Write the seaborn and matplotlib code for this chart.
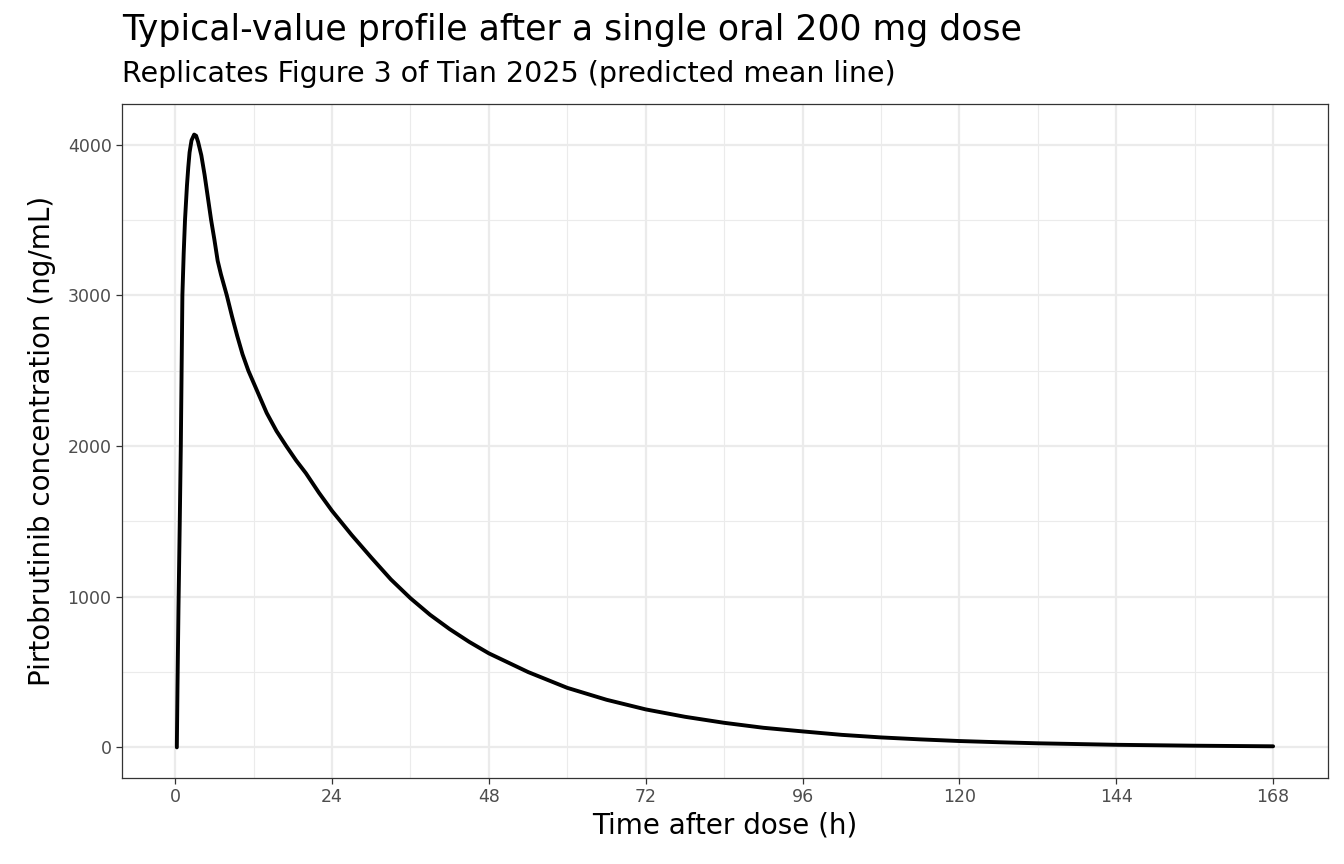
import matplotlib
matplotlib.use("Agg")
import matplotlib.pyplot as plt
import seaborn as sns
import pandas as pd

time_h = [0.25, 0.35, 0.5, 0.7, 0.86, 1.1, 1.3, 1.5, 1.8, 2, 2.2, 2.5, 2.9, 3.2, 3.5, 4, 4.5, 5, 5.5, 6,
          6.5, 7, 7.9, 8.7, 9.5, 10.3, 11.2, 12.5, 14, 15.5, 17, 18.5, 20, 22, 24, 27, 30, 33, 36, 39,
          42, 45, 48, 54, 60, 66, 72, 78, 84, 90, 96, 102, 108, 114, 120, 126, 132, 138, 144, 150,
          156, 162, 168]
conc = [0, 400, 918, 1500, 2000, 3000, 3280, 3500, 3730, 3850, 3950, 4030, 4068, 4060, 4020, 3930,
        3800, 3650, 3500, 3370, 3230, 3140, 3000, 2860, 2730, 2610, 2500, 2370, 2220, 2100, 2000,
        1905, 1820, 1690, 1570, 1410, 1260, 1115, 990, 880, 785, 700, 624, 500, 395, 316, 252, 203,
        163, 130, 106, 83, 66, 53, 42, 34, 27, 22, 17, 14, 11, 9, 7]
xticks = [0, 24, 48, 72, 96, 120, 144, 168]
yticks = [0, 1000, 2000, 3000, 4000]

sns.set_theme(style="white")
plt.rcParams['font.family'] = ['DejaVu Sans']
fig = plt.figure(figsize=(13.44, 8.64), dpi=100)
ax = fig.add_axes([122/1344, 1 - 778/864, (1328-122)/1344, (778-104)/864])
df = pd.DataFrame({"t": time_h, "c": conc})
sns.lineplot(data=df, x="t", y="c", ax=ax, color="black", linewidth=2.8, zorder=3)
ax.set_xlim(-8.14, 176.4)
ax.set_ylim(-203.4, 4271)
ax.set_xticks(xticks)
ax.set_yticks(yticks)
ax.set_xticks([12, 36, 60, 84, 108, 132, 156], minor=True)
ax.set_yticks([500, 1500, 2500, 3500], minor=True)
ax.grid(True, which="major", color="#EBEBEB", linewidth=1.6, zorder=0)
ax.grid(True, which="minor", color="#EBEBEB", linewidth=0.8, zorder=0)
ax.set_axisbelow(True)
for s in ax.spines.values():
    s.set_color("#333333"); s.set_linewidth(0.9)
ax.tick_params(axis="both", which="major", length=4, width=0.9, color="#333333",
               labelsize=12.5, labelcolor="#4D4D4D", bottom=True, left=True)
ax.tick_params(which="minor", length=0)
ax.set_xlabel("Time after dose (h)", fontsize=20, color="black", labelpad=4)
ax.set_ylabel("Pirtobrutinib concentration (ng/mL)", fontsize=20, color="black", labelpad=8)
fig.text(122/1344, 1 - 30/864, "Typical-value profile after a single oral 200 mg dose",
         fontsize=25, ha="left", va="center", color="black")
fig.text(122/1344, 1 - 74/864, "Replicates Figure 3 of Tian 2025 (predicted mean line)",
         fontsize=20.5, ha="left", va="center", color="black")
fig.savefig("out.png", dpi=100)
